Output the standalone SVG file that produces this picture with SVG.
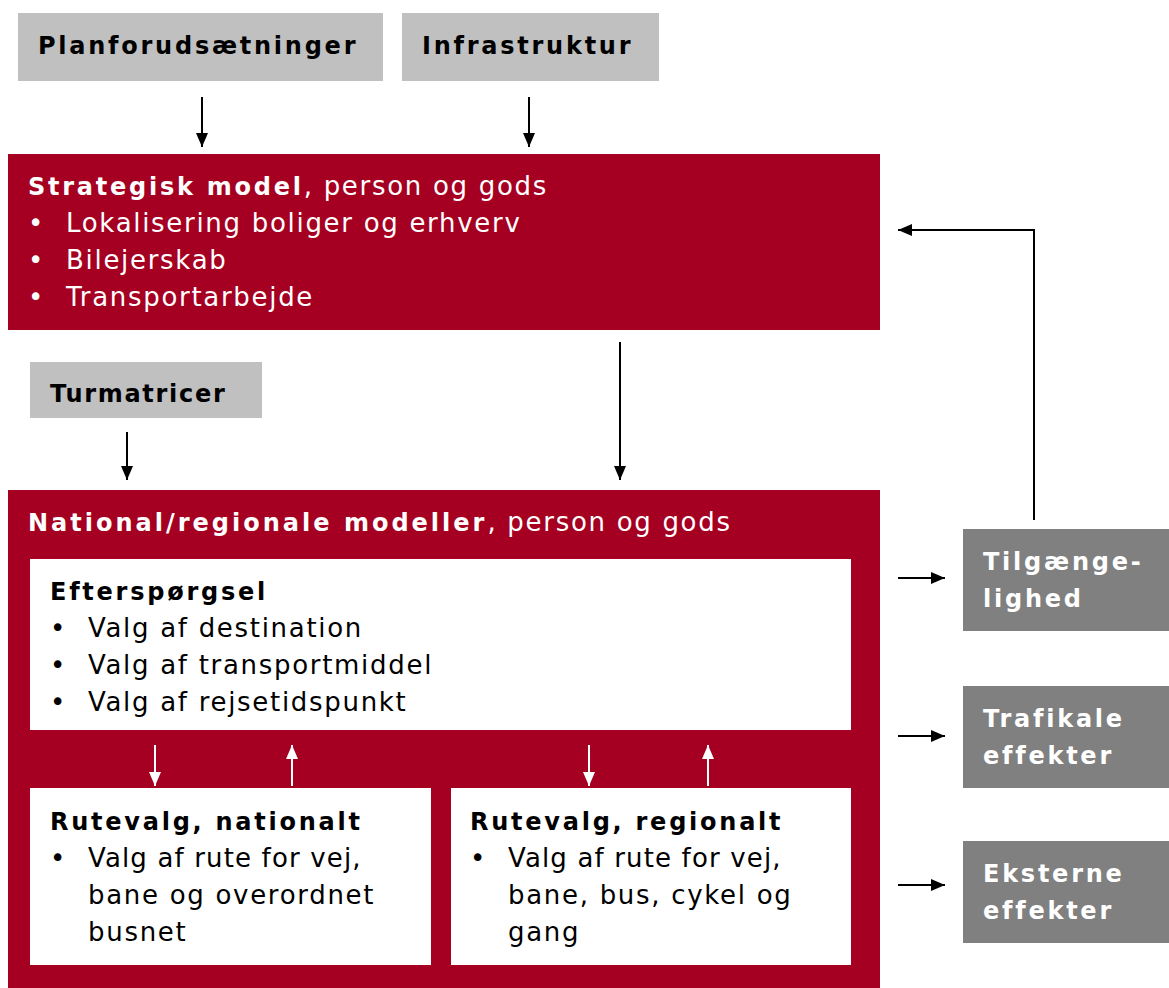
<svg xmlns="http://www.w3.org/2000/svg" width="1169" height="988" viewBox="0 0 1169 988">
<style>
text{font-family:"DejaVu Sans","Liberation Sans",sans-serif;font-size:26px;letter-spacing:1.7px}
.b{font-weight:bold;font-size:24px;letter-spacing:2.75px}
.w{fill:#ffffff}
.k{fill:#000000}
.lg{fill:#c0c0c0}
.dg{fill:#808080}
.red{fill:#a50021}
.wb{fill:#ffffff}
.c{stroke:#000;stroke-width:2;fill:none}
.cw{stroke:#fff;stroke-width:2;fill:none}
</style>
<defs>
<marker id="ah" viewBox="0 0 14 12" refX="14" refY="6" markerWidth="14" markerHeight="12" markerUnits="userSpaceOnUse" orient="auto"><path d="M0,0 L14,6 L0,12 z" fill="#000"/></marker>
<marker id="ahw" viewBox="0 0 14 12" refX="14" refY="6" markerWidth="14" markerHeight="12" markerUnits="userSpaceOnUse" orient="auto"><path d="M0,0 L14,6 L0,12 z" fill="#fff"/></marker>
</defs>
<rect width="1169" height="988" fill="#fff"/>
<g id="planforudsaetninger"><rect class="lg" x="18" y="13" width="365" height="68"/><text class="b k" x="38" y="54">Planforudsætninger</text></g>
<g id="infrastruktur"><rect class="lg" x="402" y="13" width="257" height="68"/><text class="b k" x="422" y="54">Infrastruktur</text></g>
<g id="strategisk"><rect class="red" x="8" y="154" width="872" height="176"/>
<text class="w" x="28" y="195"><tspan class="b">Strategisk model</tspan>, person og gods</text>
<text class="w" x="28" y="232">•</text><text class="w" x="66" y="232">Lokalisering boliger og erhverv</text>
<text class="w" x="28" y="269">•</text><text class="w" x="66" y="269">Bilejerskab</text>
<text class="w" x="28" y="306">•</text><text class="w" x="66" y="306">Transportarbejde</text>
</g>
<g id="turmatricer"><rect class="lg" x="30" y="362" width="232" height="56"/><text class="b k" x="50" y="402" style="letter-spacing:1.7px">Turmatricer</text></g>
<g id="national"><rect class="red" x="8" y="490" width="872" height="498"/>
<text class="w" x="28" y="531"><tspan class="b" style="letter-spacing:3px">National/regionale modeller</tspan>, person og gods</text>
</g>
<g id="efterspoergsel"><rect class="wb" x="30" y="559" width="821" height="171"/>
<text class="b k" x="50" y="600">Efterspørgsel</text>
<text class="k" x="50" y="637">•</text><text class="k" x="88" y="637">Valg af destination</text>
<text class="k" x="50" y="674">•</text><text class="k" x="88" y="674">Valg af transportmiddel</text>
<text class="k" x="50" y="711">•</text><text class="k" x="88" y="711">Valg af rejsetidspunkt</text>
</g>
<g id="rutevalg-nationalt"><rect class="wb" x="30" y="788" width="401" height="177"/>
<text class="b k" x="50" y="830">Rutevalg, nationalt</text>
<text class="k" x="50" y="867">•</text><text class="k" x="88" y="867" style="letter-spacing:1.15px">Valg af rute for vej,</text>
<text class="k" x="88" y="904">bane og overordnet</text>
<text class="k" x="88" y="941">busnet</text>
</g>
<g id="rutevalg-regionalt"><rect class="wb" x="451" y="788" width="400" height="177"/>
<text class="b k" x="470" y="830">Rutevalg, regionalt</text>
<text class="k" x="470" y="867">•</text><text class="k" x="508" y="867" style="letter-spacing:1.15px">Valg af rute for vej,</text>
<text class="k" x="508" y="904">bane, bus, cykel og</text>
<text class="k" x="508" y="941">gang</text>
</g>
<g id="tilgaengelighed"><rect class="dg" x="963" y="529" width="206" height="102"/><text class="b w" x="983" y="570">Tilgænge-</text><text class="b w" x="983" y="607">lighed</text></g>
<g id="trafikale"><rect class="dg" x="963" y="686" width="206" height="102"/><text class="b w" x="983" y="727">Trafikale</text><text class="b w" x="983" y="764">effekter</text></g>
<g id="eksterne"><rect class="dg" x="963" y="841" width="206" height="102"/><text class="b w" x="983" y="882">Eksterne</text><text class="b w" x="983" y="919">effekter</text></g>
<g id="connectors">
<path class="c" d="M202,97 V147" marker-end="url(#ah)"/>
<path class="c" d="M529,97 V147" marker-end="url(#ah)"/>
<path class="c" d="M620,342 V480" marker-end="url(#ah)"/>
<path class="c" d="M127,432 V480" marker-end="url(#ah)"/>
<path class="c" d="M898,578 H945" marker-end="url(#ah)"/>
<path class="c" d="M898,736 H945" marker-end="url(#ah)"/>
<path class="c" d="M898,885 H945" marker-end="url(#ah)"/>
<path class="c" d="M1034,520 V230 H898" marker-end="url(#ah)"/>
<path class="cw" d="M155,745 V786" marker-end="url(#ahw)"/>
<path class="cw" d="M292,786 V745" marker-end="url(#ahw)"/>
<path class="cw" d="M589,745 V786" marker-end="url(#ahw)"/>
<path class="cw" d="M708,786 V745" marker-end="url(#ahw)"/>
</g>
</svg>
